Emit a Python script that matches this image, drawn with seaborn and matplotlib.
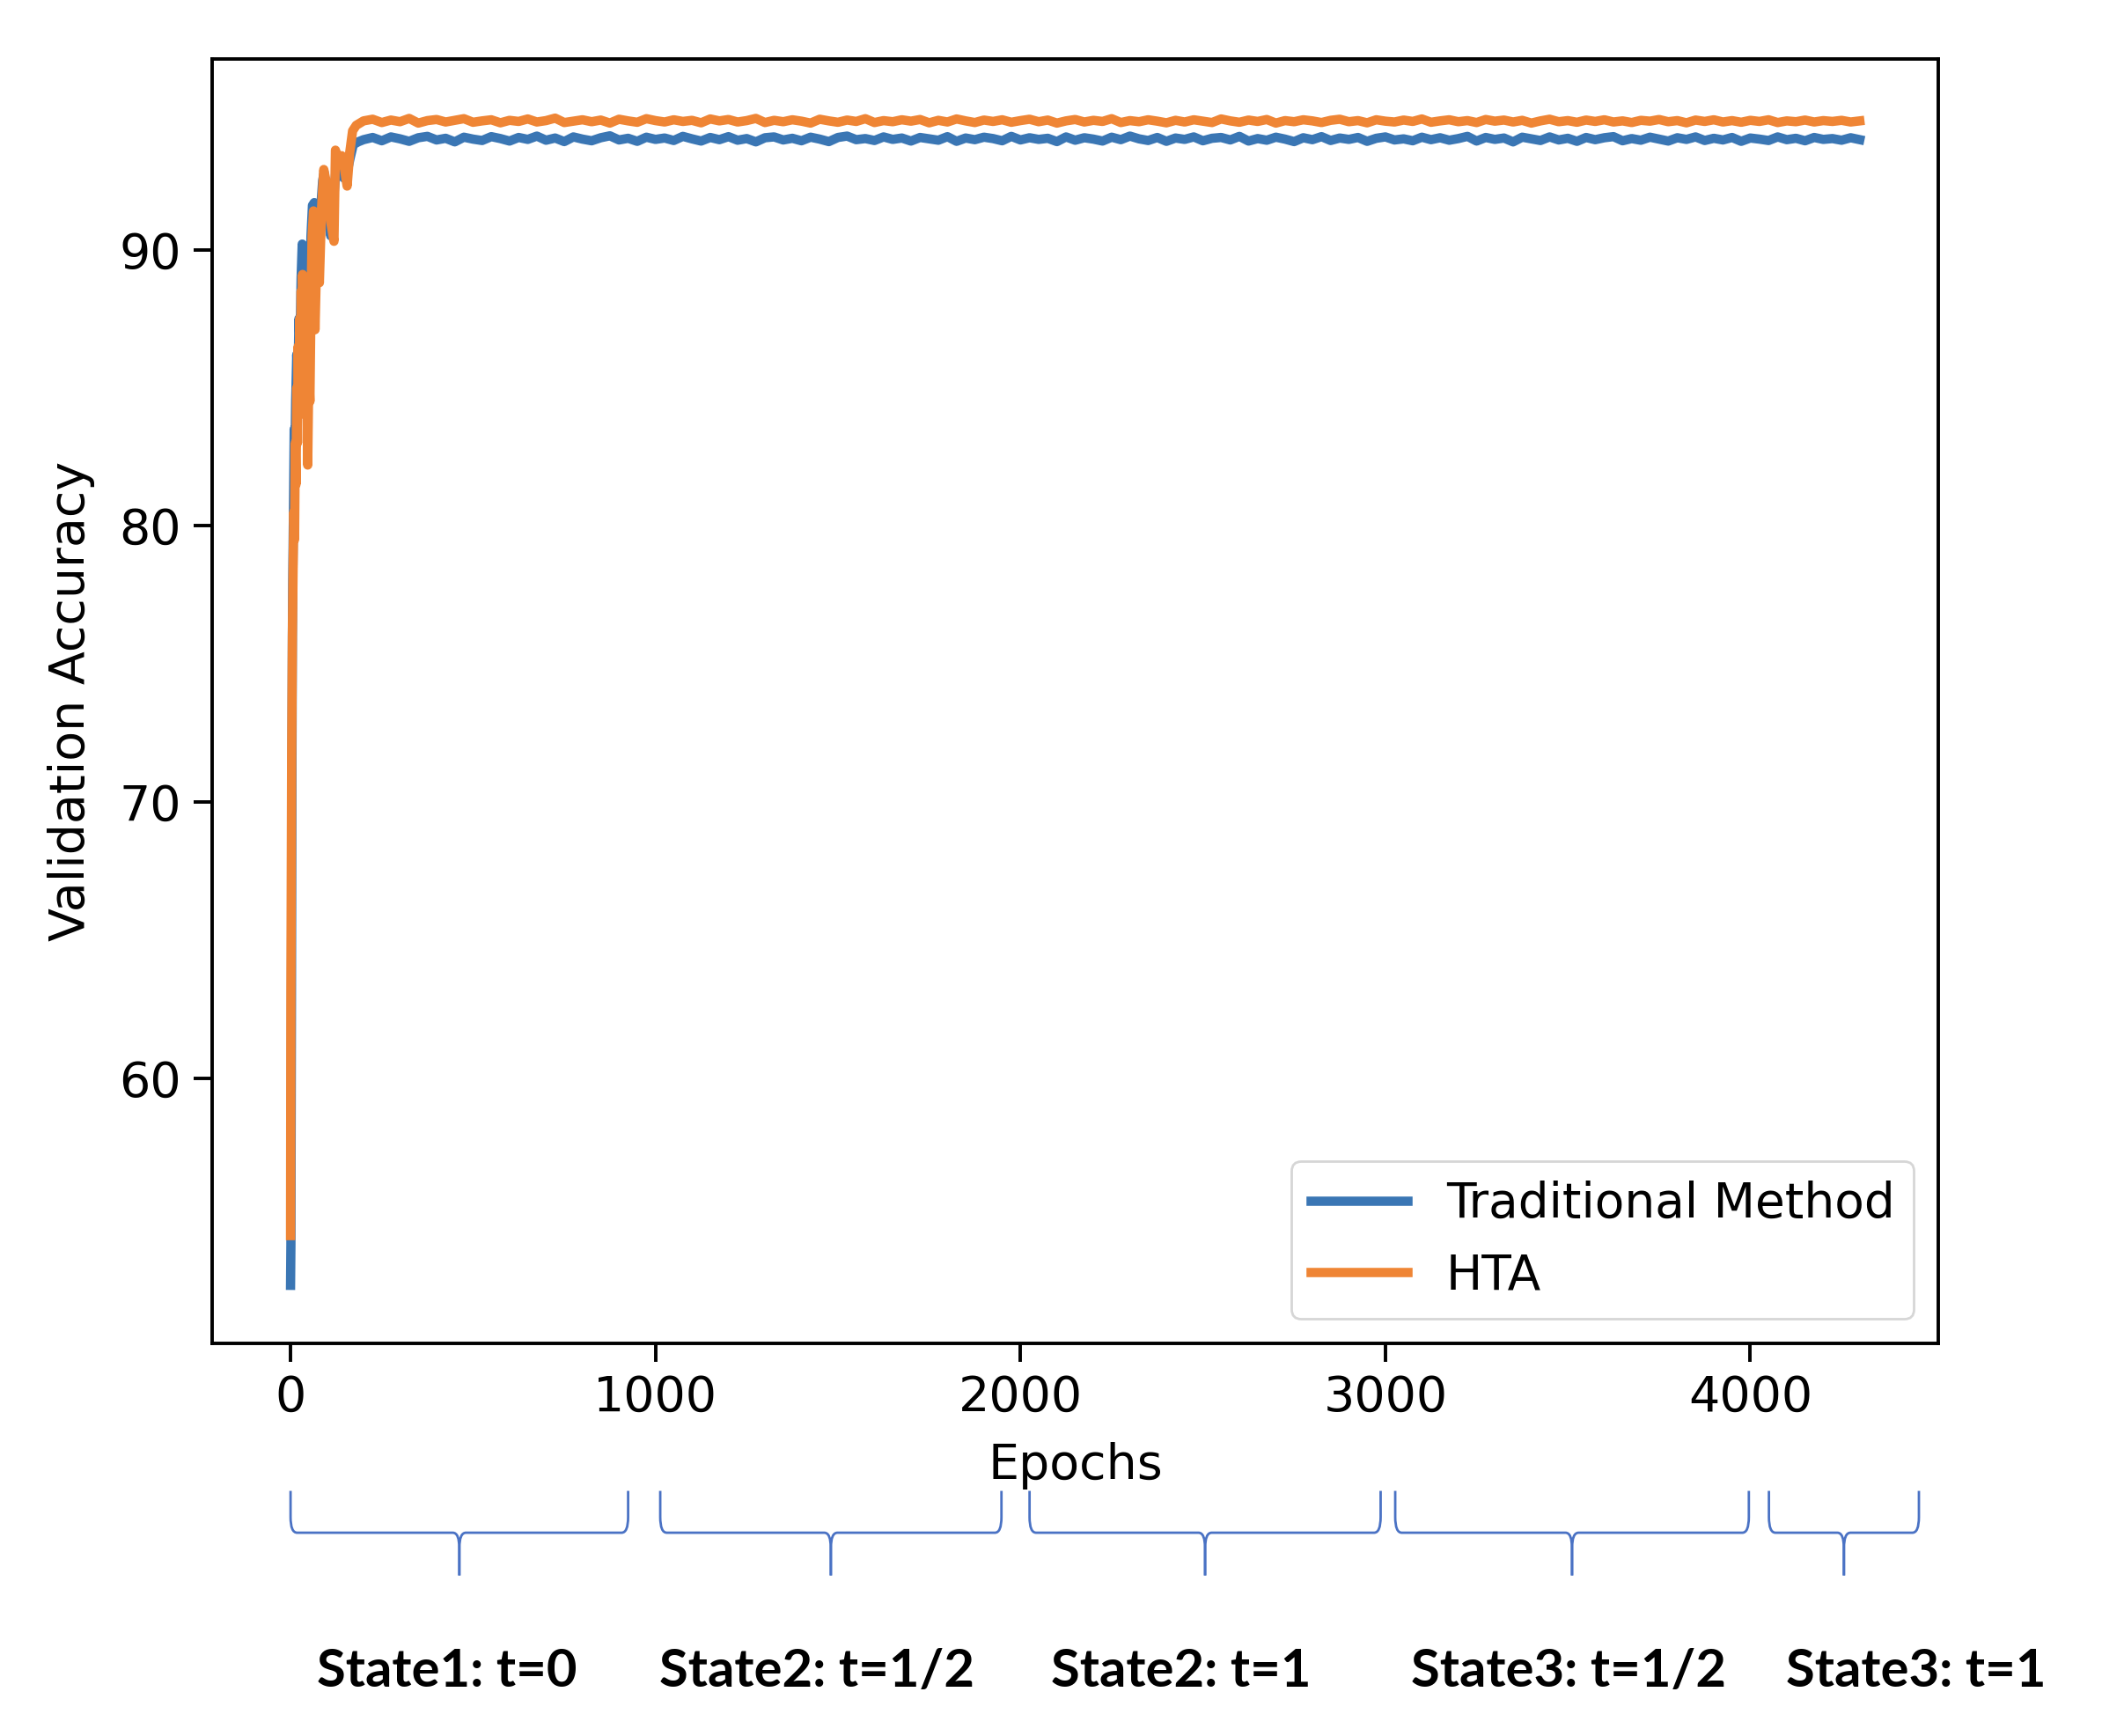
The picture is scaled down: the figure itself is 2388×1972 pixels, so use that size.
import numpy as np
import pandas as pd
import matplotlib.pyplot as plt
import seaborn as sns
from matplotlib.path import Path
from matplotlib.patches import PathPatch
from matplotlib import transforms

# kolory
blue = '#3a76b4'
orange = '#ef8535'
brace_color = '#4a72c4'

# poczatek uczenia
early_ep_trad = [0, 1, 2, 3, 4, 5, 6, 8, 10, 12, 14, 17, 20, 23, 26, 29, 32, 35, 38, 41,
                 44, 48, 52, 56, 60, 65, 70, 75, 80, 88, 92, 100, 110, 118, 125, 135, 145,
                 155, 163, 172, 185]
early_acc_trad = [52.5, 54.0, 60.0, 66.0, 72.0, 76.0, 78.0, 80.5, 83.5, 82.5, 84.5, 86.2, 85.0,
                  87.5, 86.5, 89.0, 90.2, 89.8, 88.0, 89.2, 88.3, 89.0, 88.0, 90.5, 91.6, 91.7,
                  90.8, 89.2, 91.0, 92.5, 92.8, 91.5, 90.5, 91.8, 93.0, 93.2, 92.6, 92.8, 93.3,
                  93.8, 93.9]

early_ep_hta = [0, 1, 3, 5, 7, 9, 11, 13, 15, 17, 19, 21, 23, 25, 27, 29, 31, 33, 35, 37,
                39, 41, 43, 45, 47, 50, 53, 56, 59, 63, 67, 72, 79, 85, 91, 100, 110, 119,
                123, 130, 140, 148, 155, 162, 170, 180]
early_acc_hta = [54.3, 63.2, 71.6, 76.0, 78.5, 80.5, 79.5, 83.0, 81.5, 85.0, 83.0, 86.5, 84.0,
                 87.5, 85.0, 88.5, 86.0, 89.1, 87.5, 88.8, 85.5, 87.5, 84.0, 86.0, 82.2, 85.5,
                 84.5, 88.0, 90.5, 91.4, 87.1, 90.0, 88.8, 91.5, 92.9, 92.3, 91.0, 90.3, 93.6,
                 93.2, 93.4, 92.9, 92.3, 93.5, 94.3, 94.5]

# plateau, co 25 epok od 200 do 4300
plateau_ep = list(range(200, 4301, 25))
plateau_trad = [
    93.98, 94.06, 93.94, 94.08, 94.01, 93.92, 94.05, 94.10, 93.97, 94.03, 93.90, 94.07, 94.00, 93.95, 94.09,
    94.02, 93.93, 94.06, 93.99, 94.11, 93.96, 94.04, 93.91, 94.08, 94.00, 93.94, 94.05, 94.12, 93.97, 94.03,
    93.92, 94.07, 93.99, 94.04, 93.95, 94.10, 94.01, 93.93, 94.06, 93.98, 94.09, 93.96, 94.02, 93.90, 94.05,
    94.08, 93.97, 94.03, 93.94, 94.07, 94.00, 93.91, 94.06, 94.11, 93.98, 94.02, 93.95, 94.08, 93.99, 94.04,
    93.93, 94.06, 94.01, 93.96, 94.09, 93.92, 94.04, 93.98, 94.07, 94.02, 93.94, 94.10, 93.97, 94.05, 93.99,
    94.03, 93.91, 94.08, 93.96, 94.05, 94.00, 93.93, 94.07, 93.98, 94.11, 94.01, 93.95, 94.06, 93.92, 94.04,
    93.99, 94.08, 93.94, 94.03, 94.06, 93.97, 94.10, 93.93, 94.02, 93.96, 94.07, 94.00, 93.91, 94.05, 93.98,
    94.09, 93.95, 94.04, 93.99, 94.06, 93.92, 94.03, 94.08, 93.97, 94.01, 93.94, 94.07, 93.98, 94.05, 93.96,
    94.02, 94.10, 93.93, 94.06, 93.99, 94.04, 93.90, 94.07, 94.01, 93.95, 94.08, 93.97, 94.03, 93.92, 94.06,
    93.98, 94.05, 94.09, 93.94, 94.02, 93.96, 94.07, 94.00, 93.93, 94.05, 93.99, 94.08, 93.95, 94.03, 93.97,
    94.06, 93.92, 94.04, 94.00, 93.95, 94.08, 93.98, 94.03, 93.94, 94.06, 93.99, 94.02, 93.96, 94.05, 93.98]
plateau_hta = [
    94.66, 94.72, 94.60, 94.69, 94.63, 94.75, 94.58, 94.67, 94.71, 94.62, 94.68, 94.74, 94.61, 94.66, 94.70,
    94.59, 94.68, 94.64, 94.73, 94.62, 94.67, 94.76, 94.60, 94.65, 94.70, 94.63, 94.69, 94.58, 94.72, 94.66,
    94.61, 94.74, 94.67, 94.62, 94.70, 94.64, 94.68, 94.59, 94.73, 94.66, 94.71, 94.62, 94.67, 94.75, 94.60,
    94.68, 94.63, 94.70, 94.65, 94.58, 94.72, 94.66, 94.61, 94.69, 94.64, 94.74, 94.60, 94.67, 94.63, 94.70,
    94.65, 94.71, 94.59, 94.68, 94.62, 94.73, 94.66, 94.60, 94.69, 94.64, 94.70, 94.61, 94.67, 94.72, 94.63,
    94.69, 94.58, 94.66, 94.71, 94.62, 94.68, 94.64, 94.74, 94.60, 94.67, 94.63, 94.70, 94.65, 94.59, 94.68,
    94.62, 94.70, 94.65, 94.60, 94.73, 94.66, 94.61, 94.69, 94.64, 94.71, 94.58, 94.67, 94.63, 94.70, 94.66,
    94.60, 94.68, 94.72, 94.63, 94.67, 94.59, 94.70, 94.65, 94.62, 94.69, 94.64, 94.73, 94.61, 94.66, 94.70,
    94.63, 94.67, 94.60, 94.71, 94.65, 94.69, 94.62, 94.68, 94.58, 94.66, 94.72, 94.63, 94.67, 94.61, 94.69,
    94.64, 94.70, 94.62, 94.66, 94.60, 94.68, 94.65, 94.71, 94.63, 94.67, 94.59, 94.69, 94.64, 94.70, 94.62,
    94.67, 94.61, 94.68, 94.64, 94.70, 94.60, 94.66, 94.63, 94.69, 94.62, 94.67, 94.64, 94.68, 94.62, 94.66]

# klamry pod osia x (w epokach)
state_bounds = [(0, 925), (1013, 1948), (2025, 2987), (3027, 3996), (4051, 4462)]
state_label_x = [429, 1442, 2441, 3501, 4455]
state_labels = ['State1: t=0', 'State2: t=1/2', 'State2: t=1', 'State3: t=1/2', 'State3: t=1']

trad = pd.DataFrame({'epoch': early_ep_trad + plateau_ep, 'acc': early_acc_trad + plateau_trad})
hta = pd.DataFrame({'epoch': early_ep_hta + plateau_ep, 'acc': early_acc_hta + plateau_hta})

fig = plt.figure(figsize=(11.94, 9.86), dpi=200)
ax = fig.add_axes([0.1009, 0.2262, 0.8212, 0.7398])

sns.lineplot(data=trad, x='epoch', y='acc', ax=ax, color=blue, linewidth=3.8,
             label='Traditional Method', estimator=None)
sns.lineplot(data=hta, x='epoch', y='acc', ax=ax, color=orange, linewidth=3.8,
             label='HTA', estimator=None)

ax.set_xticks([0, 1000, 2000, 3000, 4000])
ax.set_yticks([60, 70, 80, 90])
ax.set_xlim(-215, 4515)
ax.set_ylim(50.4, 96.9)
ax.tick_params(labelsize=20, length=7.5, width=1.4, pad=5)
for s in ax.spines.values():
    s.set_linewidth(1.4)
ax.set_xlabel('Epochs', fontsize=20, labelpad=8.5)
ax.set_ylabel('Validation Accuracy', fontsize=20, labelpad=10)
ax.legend(loc='lower right', fontsize=19.8)

# klamry
trans = transforms.blended_transform_factory(ax.transData, fig.transFigure)
top, mid, tip = 0.1412, 0.1171, 0.0925
dx, r = 18, 0.009
for (a, b) in state_bounds:
    m = (a + b) / 2
    for side in (a, b):
        sgn = 1 if side == a else -1
        verts = [(side, top), (side, mid + r), (side, mid), (side + sgn * dx, mid),
                 (m - sgn * dx, mid), (m, mid), (m, mid - r), (m, tip)]
        codes = [Path.MOVETO, Path.LINETO, Path.CURVE3, Path.CURVE3,
                 Path.LINETO, Path.CURVE3, Path.CURVE3, Path.LINETO]
        ax.add_patch(PathPatch(Path(verts, codes), fill=False, edgecolor=brace_color,
                               linewidth=1.0, transform=trans, clip_on=False))

for x, txt in zip(state_label_x, state_labels):
    ax.text(x, 0.037, txt, transform=trans, ha='center', va='center',
            fontsize=21.5, fontweight='bold', family=['Liberation Sans Narrow', 'Lato'])

fig.savefig('out.png', dpi=200)
